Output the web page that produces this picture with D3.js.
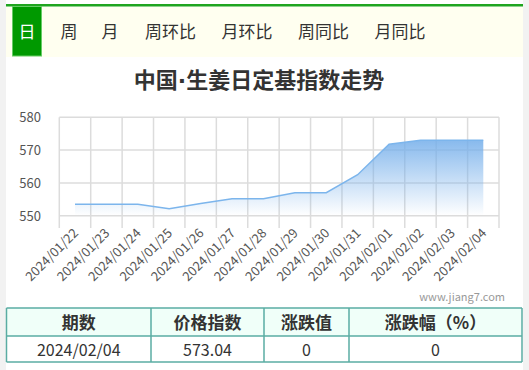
<!DOCTYPE html>
<html>
<head>
<meta charset="utf-8">
<script src="https://cdn.jsdelivr.net/npm/d3@7"></script>
<style>
  body { margin: 0; background: #f2f2f2; }
  svg { display: block; font-family: "Noto Sans CJK SC", "Noto Sans", sans-serif; }
</style>
</head>
<body>
<svg id="chart" width="529" height="370"></svg>
<script>
const dates = ['2024/01/22', '2024/01/23', '2024/01/24', '2024/01/25', '2024/01/26', '2024/01/27', '2024/01/28',
    '2024/01/29', '2024/01/30', '2024/01/31', '2024/02/01', '2024/02/02', '2024/02/03', '2024/02/04']
const values = [553.5, 553.5, 553.5, 552.1, 553.7, 555.2, 555.2, 557.0, 557.0, 562.5, 571.8, 573.0, 573.04, 573.04]
const yTicks = [550, 560, 570, 580]
const tabs = ['日', '周', '月', '周环比', '月环比', '周同比', '月同比']
const tableHead = ['期数', '价格指数', '涨跌值', '涨跌幅（%）']
const tableRow = ['2024/02/04', '573.04', '0', '0']

const svg = d3.select('#chart')

// page body
svg.append('rect').attr('x', 6).attr('y', 0).attr('width', 517).attr('height', 370).attr('fill', '#fff')

// tab bar
svg.append('rect').attr('x', 6).attr('y', 4).attr('width', 517).attr('height', 2.5).attr('fill', '#1fa51f')
svg.append('rect').attr('x', 6).attr('y', 7).attr('width', 517).attr('height', 50).attr('fill', '#fffff0')
svg.append('rect').attr('x', 12.5).attr('y', 6.5).attr('width', 29).attr('height', 49.5)
    .attr('fill', '#009900').attr('stroke', '#6c6').attr('stroke-width', 1)

const tabX = [27, 69, 110, 170.5, 247, 323.5, 400]
svg.append('g').selectAll('text')
    .data(tabs)
    .enter().append('text')
    .attr('x', (d, i) => tabX[i])
    .attr('y', 38)
    .attr('text-anchor', 'middle')
    .attr('font-size', 17)
    .attr('fill', (d, i) => i === 0 ? '#fff' : '#333')
    .text(d => d)

// title (narrow middle dot from a latin font)
const title = svg.append('text')
    .attr('x', 259).attr('y', 88)
    .attr('text-anchor', 'middle')
    .attr('font-size', 22)
    .attr('font-weight', 'bold')
    .attr('fill', '#333')
title.append('tspan').text('中国')
title.append('tspan').attr('font-family', 'DejaVu Sans').text('·')
title.append('tspan').text('生姜日定基指数走势')

// chart
const plot = { left: 59.3, right: 499, top: 117.3, bottom: 228 }

const x = d3.scaleBand()
    .domain(dates)
    .range([plot.left, plot.right])

const y = d3.scaleLinear()
    .domain([550, 580])
    .range([215.7, plot.top])

const grid = svg.append('g').attr('stroke', '#dcdcdc').attr('stroke-width', 1.5)

grid.selectAll('.h')
    .data(yTicks)
    .enter().append('line')
    .attr('x1', plot.left).attr('x2', plot.right)
    .attr('y1', d => y(d)).attr('y2', d => y(d))

const edges = dates.map(d => x(d)).concat([plot.right])
grid.selectAll('.v')
    .data(edges)
    .enter().append('line')
    .attr('x1', d => d).attr('x2', d => d)
    .attr('y1', plot.top).attr('y2', plot.bottom)

// area gradient
const grad = svg.append('defs').append('linearGradient')
    .attr('id', 'fade')
    .attr('x1', 0).attr('y1', 0).attr('x2', 0).attr('y2', 1)
grad.append('stop').attr('offset', '0%').attr('stop-color', '#74aeea').attr('stop-opacity', 0.95)
grad.append('stop').attr('offset', '100%').attr('stop-color', '#74aeea').attr('stop-opacity', 0)

const cx = d => x(d) + x.bandwidth() / 2

const area = d3.area()
    .x((d, i) => cx(dates[i]))
    .y0(y(550))
    .y1(d => y(d))

svg.append('path')
    .datum(values)
    .attr('d', area)
    .attr('fill', 'url(#fade)')
    .attr('fill-opacity', 0.9)

const line = d3.line()
    .x((d, i) => cx(dates[i]))
    .y(d => y(d))

svg.append('path')
    .datum(values)
    .attr('d', line)
    .attr('fill', 'none')
    .attr('stroke', '#7cb5ec')
    .attr('stroke-width', 1.5)

// y axis labels
svg.append('g').selectAll('text')
    .data(yTicks)
    .enter().append('text')
    .attr('x', 41)
    .attr('y', d => y(d) + 5)
    .attr('text-anchor', 'end')
    .attr('font-size', 13)
    .attr('fill', '#555')
    .text(d => d)

// x axis labels
svg.append('g').selectAll('text')
    .data(dates)
    .enter().append('text')
    .attr('transform', d => `translate(${cx(d) + 4},${plot.bottom + 6}) rotate(-45)`)
    .attr('text-anchor', 'end')
    .attr('font-size', 13)
    .attr('fill', '#555')
    .text(d => d)

// watermark
svg.append('text')
    .attr('x', 505).attr('y', 301)
    .attr('text-anchor', 'end')
    .attr('font-size', 11)
    .attr('fill', '#999')
    .text('www.jiang7.com')

// table
const cols = [6.5, 151, 264, 349, 522]
const rowY = [308, 336, 362]

svg.append('rect').attr('x', cols[0]).attr('y', rowY[0])
    .attr('width', cols[4] - cols[0]).attr('height', rowY[1] - rowY[0]).attr('fill', '#f0fff9')

const tb = svg.append('g').attr('stroke', '#5aaca3').attr('stroke-width', 1.5)
tb.selectAll('.r')
    .data(rowY)
    .enter().append('line')
    .attr('x1', cols[0]).attr('x2', cols[4])
    .attr('y1', d => d).attr('y2', d => d)
tb.selectAll('.c')
    .data(cols)
    .enter().append('line')
    .attr('x1', d => d).attr('x2', d => d)
    .attr('y1', rowY[0]).attr('y2', rowY[2])

const mid = i => (cols[i] + cols[i + 1]) / 2

svg.append('g').selectAll('text')
    .data(tableHead)
    .enter().append('text')
    .attr('x', (d, i) => mid(i))
    .attr('y', 329)
    .attr('text-anchor', 'middle')
    .attr('font-size', 17)
    .attr('font-weight', 'bold')
    .attr('fill', '#333')
    .text(d => d)

svg.append('g').selectAll('text')
    .data(tableRow)
    .enter().append('text')
    .attr('x', (d, i) => mid(i))
    .attr('y', 356)
    .attr('text-anchor', 'middle')
    .attr('font-size', 16)
    .attr('fill', '#333')
    .text(d => d)
</script>
</body>
</html>
